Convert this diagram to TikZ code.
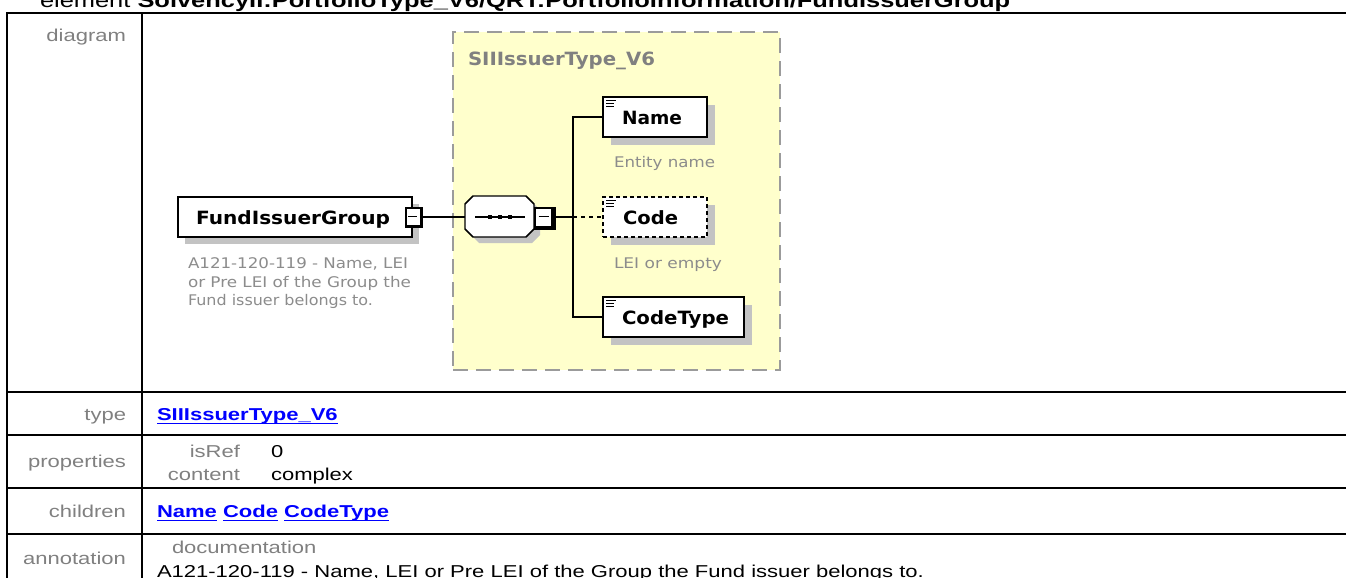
\documentclass[tikz,border=0pt]{standalone}
\usepackage{fontspec}
\usepackage{graphicx}
\usetikzlibrary{calc}
\setmainfont{Liberation Sans}
\newfontfamily\tblfont[FakeStretch=1.28]{Liberation Sans}
\newfontfamily\dgfont{DejaVu Sans}
\newlength\pxu
\setlength\pxu{0.75pt}
\newsavebox\ulkbox
\newcommand\fitt[3]{\resizebox{#1\pxu}{\height}{\fontsize{#2}{#2}\selectfont #3}}
\newcommand\ulk[1]{\sbox\ulkbox{#1}\rlap{\vrule width\wd\ulkbox height -1.9pt depth 3.3pt}\usebox\ulkbox}
\definecolor{lblgray}{RGB}{128,128,128}
\definecolor{anngray}{RGB}{140,140,140}
\definecolor{hdrgray}{RGB}{128,128,128}
\definecolor{yellowbg}{RGB}{255,255,204}
\definecolor{dashgray}{RGB}{155,155,155}
\definecolor{shadowgray}{RGB}{195,195,195}
\definecolor{linkblue}{RGB}{0,0,255}
\begin{document}
\begin{tikzpicture}[x=0.75pt,y=-0.75pt,
  every node/.style={inner sep=0pt,outer sep=0pt},
  tline/.style={line width=1.35pt},
  tfont/.style={font=\tblfont\fontsize{12.9pt}{14pt}\selectfont},
  lbl/.style={tfont,anchor=base east,text=lblgray},
  val/.style={tfont,anchor=base west,text=black},
  lnk/.style={anchor=base west,text=linkblue,font=\tblfont\bfseries\fontsize{12.9pt}{14pt}\selectfont},
  elbox/.style={draw=black,fill=white,line width=1pt,anchor=north west},
  optbox/.style={elbox,dash pattern=on 3pt off 2.25pt},
  shbox/.style={fill=shadowgray,anchor=north west},
  conn/.style={line width=1.1pt},
  optconn/.style={conn,dash pattern=on 3pt off 3pt},
  eltext/.style={anchor=base west,font=\dgfont\bfseries},
  anntext/.style={anchor=base west,text=anngray,font=\dgfont},
  minusbox/.style={fill=black,anchor=north west},
  icon/.style={line width=0.75pt}]
\useasboundingbox (0,0) rectangle (1346,578);
\fill[white] (0,0) rectangle (1346,578);

% title (clipped at top)
\node[anchor=base west,font=\tblfont\fontsize{14.9pt}{16pt}\selectfont] (title) at (40,7.5)
  {element \textbf{SolvencyII:PortfolioType\_V6/QRT:PortfolioInformation/FundIssuerGroup}};

% table frame
\draw[tline] (1346,13) -- (7,13) -- (7,578);
\draw[tline] (142,13) -- (142,578);
\draw[tline] (7,392) -- (1346,392);
\draw[line width=2pt] (7,435) -- (1346,435);
\draw[tline] (7,488) -- (1346,488);
\draw[tline] (7,534) -- (1346,534);

% row labels and values
\node[lbl] (l-diagram) at (126,41) {diagram};
\node[lbl] (l-type) at (126,420) {type};
\node[lbl] (l-props) at (126,467) {properties};
\node[lbl] (l-children) at (126,517) {children};
\node[lbl] (l-ann) at (126,564) {annotation};

\node[lnk] (v-type) at (157,420) {\ulk{SIIIssuerType\_V6}};
\node[lbl] (p-isref) at (240,457) {isRef};
\node[val] (v-isref) at (271,457) {0};
\node[lbl] (p-content) at (240,480) {content};
\node[val] (v-content) at (271,480) {complex};
\node[lnk] (v-children) at (157,517) {\ulk{Name}\ \ulk{Code}\ \ulk{CodeType}};
\node[lbl,anchor=base west] (d-doc) at (172,553) {documentation};
\node[val] (d-text) at (157,577) {A121-120-119 - Name, LEI or Pre LEI of the Group the Fund issuer belongs to.};

% type group box
\node[fill=yellowbg,draw=dashgray,line width=1.5pt,dash pattern=on 11.25pt off 6pt,
  minimum width=327\pxu,minimum height=338\pxu,anchor=north west] (grp) at (453,32) {};
\node[anchor=base west,text=hdrgray,font=\dgfont\bfseries] (grp-t) at (468,65) {\fitt{187}{13.7pt}{SIIIssuerType\_V6}};

% FundIssuerGroup element
\node[shbox,minimum width=234\pxu,minimum height=40\pxu] (fig-sh) at (185,204) {};
\node[elbox,minimum width=234\pxu,minimum height=40\pxu] (fig) at (178,197) {};
\node[eltext] (fig-t) at (196,224) {\fitt{194}{13.7pt}{FundIssuerGroup}};
\node[minusbox,minimum width=18\pxu,minimum height=21\pxu] (fminus) at (405,207) {};
\fill[white] (406.5,208.5) rectangle (419.5,224.5);
\draw[conn] (408,216.7) -- (417,216.7);
\node[anntext] (fig-a1) at (188,268) {\fitt{220}{11pt}{A121-120-119 - Name, LEI}};
\node[anntext] (fig-a2) at (188,287) {\fitt{223}{11pt}{or Pre LEI of the Group the}};
\node[anntext] (fig-a3) at (188,305) {\fitt{185}{11pt}{Fund issuer belongs to.}};

% sequence compositor
\fill[shadowgray] (479,202) -- (532,202) -- (540,210) -- (540,235) -- (532,243) -- (479,243) -- (471,235) -- (471,210) -- cycle;
\node[minimum width=69\pxu,minimum height=41\pxu,anchor=north west] (seq) at (465,196) {};
\draw[conn,fill=white] (473,196) -- (526,196) -- (534,204) -- (534,229) -- (526,237) -- (473,237) -- (465,229) -- (465,204) -- cycle;
\draw[conn] (475,217) -- (525,217);
\fill (488,215) rectangle (492,219);
\fill (498,215) rectangle (502,219);
\fill (508,215) rectangle (512,219);
\node[minusbox,minimum width=22\pxu,minimum height=23\pxu] (sminus) at (534,207) {};
\fill[white] (536,209) rectangle (551,225.5);
\draw[conn] (538.5,216.7) -- (549,216.7);

% child elements
\node[shbox,minimum width=104\pxu,minimum height=40\pxu] (name-sh) at (611,105) {};
\node[elbox,minimum width=104\pxu,minimum height=40\pxu] (name) at (603,97) {};
\node[eltext] (name-t) at (622,124) {\fitt{60}{13.7pt}{Name}};
\node[anntext] (name-a) at (614,167) {\fitt{101}{11pt}{Entity name}};

\node[shbox,minimum width=104\pxu,minimum height=40\pxu] (code-sh) at (611,205) {};
\node[optbox,minimum width=104\pxu,minimum height=40\pxu] (code) at (603,197) {};
\node[eltext] (code-t) at (623,224) {\fitt{55}{13.7pt}{Code}};
\node[anntext] (code-a) at (614,268) {\fitt{108}{11pt}{LEI or empty}};

\node[shbox,minimum width=141\pxu,minimum height=40\pxu] (ctype-sh) at (611,305) {};
\node[elbox,minimum width=141\pxu,minimum height=40\pxu] (ctype) at (603,297) {};
\node[eltext] (ctype-t) at (622,324) {\fitt{107}{13.7pt}{CodeType}};

% element icons
\foreach \yy in {97,197,297}{
  \draw[icon] (606,\yy+3) -- (616,\yy+3);
  \draw[icon] (606,\yy+6) -- (614,\yy+6);
  \draw[icon] (606,\yy+9) -- (614,\yy+9);
}

% connectors
\coordinate (jn) at (573,217);
\draw[conn] (fminus.east |- jn) -- (seq.west |- jn);
\draw[conn] (sminus.east |- jn) -- (jn);
\draw[conn] (name.west) -| (jn) |- (ctype.west);
\draw[optconn] (jn) -- (code.west);
\end{tikzpicture}
\end{document}
